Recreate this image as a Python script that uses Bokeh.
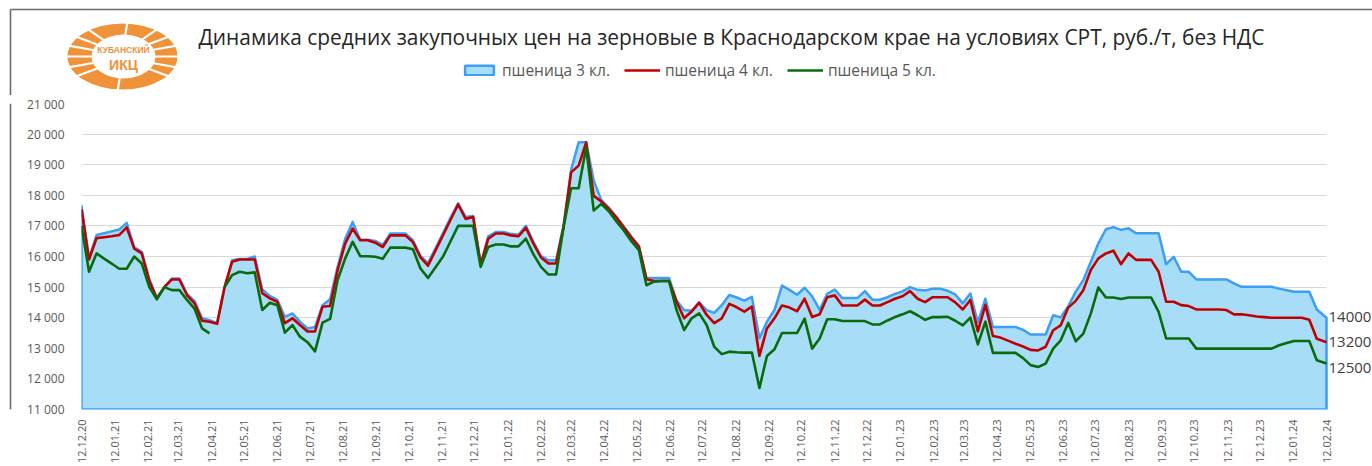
import numpy as np
import pandas as pd
from bokeh.plotting import figure
from bokeh.layouts import column, row
from bokeh.models import (Range1d, FixedTicker, DatetimeTickFormatter, CustomJSTickFormatter,
                          Legend, LegendItem, Label)
from bokeh.core.properties import value
from bokeh.embed import file_html
from bokeh.resources import INLINE

# ---------------- data ----------------
TITLE = "Динамика средних закупочных цен на зерновые в Краснодарском крае на условиях СРТ, руб./т, без НДС"
SERIES_NAMES = ["пшеница 3 кл.", "пшеница 4 кл.", "пшеница 5 кл."]
LOGO_TEXT = ["КУБАНСКИЙ", "ИКЦ"]
FIRST_DATE = "2020-12-12"   # weekly observations
LAST_DATE = "2024-02-12"
Y_TICKS = [11000, 12000, 13000, 14000, 15000, 16000, 17000, 18000, 19000, 20000, 21000]

WHEAT3 = [
    17650, 15950, 16700, 16760, 16820, 16880, 17100, 16300, 16150, 15270,
    14650, 15000, 15280, 15280, 14780, 14550, 13980, 13920, 13820, 15000,
    15880, 15920, 15920, 16000, 14920, 14710, 14580, 14030, 14140, 13870,
    13650, 13700, 14410, 14600, 15660, 16580, 17130, 16550, 16550, 16510,
    16370, 16750, 16750, 16750, 16530, 16020, 15780, 16270, 16770, 17270,
    17740, 17290, 17320, 15770, 16660, 16800, 16800, 16740, 16710, 17000,
    16470, 16010, 15880, 15880, 17020, 18830, 19730, 19730, 18480, 17850,
    17600, 17300, 16980, 16650, 16350, 15300, 15300, 15300, 15300, 14560,
    14250, 14230, 14490, 14250, 14160, 14410, 14740, 14660, 14560, 14680,
    13330, 13870, 14250, 15050, 14910, 14750, 14980, 14700, 14260, 14780,
    14920, 14640, 14640, 14640, 14870, 14590, 14590, 14670, 14780, 14860,
    15000, 14910, 14890, 14950, 14950, 14880, 14760, 14470, 14790, 13840,
    14620, 13700, 13700, 13700, 13700, 13600, 13450, 13450, 13450, 14080,
    14010, 14380, 14850, 15230, 15830, 16430, 16890, 16960, 16870, 16920,
    16760, 16760, 16760, 16760, 15750, 15990, 15500, 15500, 15250, 15250,
    15250, 15250, 15250, 15120, 15010, 15010, 15010, 15010, 15010, 14950,
    14900, 14850, 14850, 14850, 14270, 14000,
]
WHEAT4 = [
    17550, 15900, 16600, 16630, 16660, 16700, 16950, 16260, 16100, 15200,
    14620, 15000, 15250, 15250, 14740, 14470, 13900, 13870, 13800, 15000,
    15830, 15900, 15900, 15900, 14800, 14630, 14520, 13820, 13980, 13760,
    13550, 13550, 14360, 14380, 15550, 16420, 16910, 16530, 16530, 16450,
    16310, 16690, 16690, 16690, 16470, 15970, 15700, 16200, 16700, 17200,
    17700, 17230, 17290, 15720, 16580, 16750, 16750, 16690, 16660, 16940,
    16420, 15970, 15770, 15770, 16960, 18750, 18970, 19730, 17980, 17800,
    17560, 17280, 16950, 16620, 16320, 15260, 15200, 15200, 15200, 14520,
    13980, 14200, 14490, 14090, 13820, 13980, 14450, 14340, 14200, 14360,
    12750, 13650, 13980, 14400, 14330, 14210, 14620, 14020, 14110, 14670,
    14730, 14400, 14400, 14400, 14590, 14400, 14400, 14510, 14620, 14700,
    14870, 14620, 14510, 14670, 14670, 14670, 14500, 14270, 14580, 13550,
    14420, 13400, 13350, 13250, 13150, 13060, 12950, 12930, 13050, 13590,
    13750, 14330, 14550, 14900, 15560, 15940, 16100, 16190, 15750, 16100,
    15890, 15890, 15890, 15500, 14520, 14520, 14410, 14380, 14270, 14270,
    14270, 14270, 14250, 14110, 14110, 14080, 14040, 14020, 14000, 14000,
    14000, 14000, 14000, 13930, 13310, 13200,
]
WHEAT5 = [
    17000, 15500, 16100, 15930, 15770, 15600, 15600, 16000, 15770, 15000,
    14600, 15000, 14900, 14900, 14580, 14300, 13650, 13490, None, 15000,
    15390, 15500, 15450, 15480, 14250, 14490, 14410, 13510, 13760, 13380,
    13200, 12900, 13840, 13960, 15230, 15930, 16480, 16010, 16010, 15990,
    15930, 16290, 16290, 16290, 16240, 15610, 15300, 15650, 16000, 16500,
    17000, 17000, 17000, 15660, 16310, 16390, 16390, 16330, 16330, 16580,
    16070, 15660, 15410, 15410, 16960, 18230, 18230, 19570, 17500, 17720,
    17480, 17150, 16850, 16500, 16210, 15060, 15180, 15200, 15200, 14250,
    13600, 13980, 14140, 13760, 13050, 12810, 12890, 12870, 12860, 12860,
    11700, 12750, 12970, 13500, 13500, 13500, 13970, 12990, 13320, 13950,
    13950, 13890, 13890, 13890, 13890, 13780, 13780, 13910, 14020, 14110,
    14210, 14080, 13930, 14020, 14020, 14030, 13900, 13750, 14000, 13130,
    13870, 12850, 12850, 12850, 12850, 12680, 12450, 12390, 12500, 12990,
    13260, 13830, 13230, 13480, 14140, 14990, 14660, 14660, 14610, 14660,
    14660, 14660, 14660, 14190, 13320, 13320, 13320, 13320, 12990, 12990,
    12990, 12990, 12990, 12990, 12990, 12990, 12990, 12990, 12990, 13100,
    13170, 13240, 13240, 13240, 12610, 12500,
]

# ---------------- styles / layout ----------------
AREA_FILL = "#a8ddf8"
AREA_LINE = "#3d9ef3"
RED = "#c00000"
GREEN = "#0a6b0a"
ORANGE = "#f0923a"
BORDER = "#6b6b6b"
FONT = "Open Sans"
W, H = 1372, 466
HEADER_H = 95
STRIP_W = 12
PLOT_L, PLOT_R = 81, 1326        # pixel span of the dates (first..last)
MB_TOP, MB_BOTTOM = 8, 56

dates = pd.date_range(FIRST_DATE, periods=len(WHEAT3), freq="7D")
dates = dates[:-1].append(pd.DatetimeIndex([LAST_DATE]))
x_ms = (dates.asi8 // 10**6).astype(float)
w5 = np.array([np.nan if v is None else v for v in WHEAT5], dtype=float)
tick_dates = pd.date_range(FIRST_DATE, LAST_DATE, freq=pd.DateOffset(months=1))
tick_ms = [float(v) for v in (tick_dates.asi8 // 10**6)]

# ---------------- header (title, logo, legend) ----------------
hdr = figure(width=W, height=HEADER_H, output_backend="svg", toolbar_location=None,
             x_range=Range1d(0, W), y_range=Range1d(HEADER_H, 0),
             x_axis_location=None, y_axis_location=None,
             min_border_left=0, min_border_right=0, min_border_top=0, min_border_bottom=0)
hdr.outline_line_color = None
hdr.grid.visible = False
hdr.segment(x0=[10, 10], y0=[9, 9], x1=[W, 10], y1=[9, HEADER_H], line_color=BORDER, line_width=1.6)
hdr.text(x=[731], y=[36], text=[TITLE], text_align="center", text_baseline="middle",
         text_font=value(FONT), text_font_size="20.9px", text_color="#262626")

# logo
hdr.ellipse(x=[122], y=[56], width=[110], height=[66], fill_color=ORANGE, line_color=None)
hdr.ellipse(x=[123], y=[56], width=[64], height=[44], fill_color="white", line_color=None)
ang = np.deg2rad(np.array([145, 162, 180, 198, 215, 232, 35, 18, 0, -18, -35, -52, 95, 275]))
hdr.segment(x0=122 + 31 * np.cos(ang), y0=56 + 21 * np.sin(ang),
            x1=122 + 57 * np.cos(ang), y1=56 + 35 * np.sin(ang),
            line_color="white", line_width=2.2)
hdr.text(x=[123], y=[49], text=[LOGO_TEXT[0]], text_align="center", text_baseline="middle",
         text_font=value("Liberation Sans"), text_font_style="bold", text_font_size="8.5px",
         text_color=ORANGE)
hdr.text(x=[123], y=[64], text=[LOGO_TEXT[1]], text_align="center", text_baseline="middle",
         text_font=value("Liberation Sans"), text_font_style="bold", text_font_size="14px",
         text_color=ORANGE)

# legend swatches: renderers in this header plot, holding only an empty (NaN) point
d3 = hdr.patch(x=[np.nan], y=[np.nan], fill_color=AREA_FILL, line_color=AREA_LINE, line_width=2.5)
d4 = hdr.line(x=[np.nan], y=[np.nan], line_color=RED, line_width=2.6)
d5 = hdr.line(x=[np.nan], y=[np.nan], line_color=GREEN, line_width=2.6)
legend = Legend(items=[LegendItem(label=SERIES_NAMES[0], renderers=[d3]),
                       LegendItem(label=SERIES_NAMES[1], renderers=[d4]),
                       LegendItem(label=SERIES_NAMES[2], renderers=[d5])],
                location=(461, 14), orientation="horizontal",
                border_line_color=None, background_fill_alpha=0,
                label_text_font=FONT, label_text_font_size="15.5px", label_text_color="#595959",
                glyph_width=36, glyph_height=12, label_standoff=5, spacing=14,
                padding=0, margin=0)
hdr.add_layout(legend, "center")

# ---------------- left strip (chart border) ----------------
strip = figure(width=STRIP_W, height=H - HEADER_H, output_backend="svg", toolbar_location=None,
               x_range=Range1d(0, STRIP_W), y_range=Range1d(H, HEADER_H),
               x_axis_location=None, y_axis_location=None,
               min_border_left=0, min_border_right=0, min_border_top=0, min_border_bottom=0)
strip.outline_line_color = None
strip.grid.visible = False
strip.segment(x0=[10], y0=[HEADER_H], x1=[10], y1=[H], line_color=BORDER, line_width=1.6)

# ---------------- main chart ----------------
span = x_ms[-1] - x_ms[0]
x_end = x_ms[0] + span * (W - PLOT_L) / (PLOT_R - PLOT_L)
p = figure(width=W - STRIP_W, height=H - HEADER_H, output_backend="svg", toolbar_location=None,
           x_axis_type="datetime",
           x_range=Range1d(x_ms[0], x_end), y_range=Range1d(Y_TICKS[0], Y_TICKS[-1]),
           min_border_left=PLOT_L - STRIP_W, min_border_right=0,
           min_border_top=MB_TOP, min_border_bottom=MB_BOTTOM)
p.outline_line_color = None

xs_area = list(x_ms) + [x_ms[-1], x_ms[0]]
ys_area = list(WHEAT3) + [Y_TICKS[0], Y_TICKS[0]]
p.patch(xs_area, ys_area, fill_color=AREA_FILL, line_color=AREA_LINE, line_width=2.5,
        line_join="round")
p.line(x_ms, WHEAT4, line_color=RED, line_width=2.6, line_join="round")
p.line(x_ms, w5, line_color=GREEN, line_width=2.6, line_join="round")

p.yaxis.ticker = FixedTicker(ticks=Y_TICKS)
p.yaxis.formatter = CustomJSTickFormatter(
    code=r"return tick.toFixed(0).replace(/\B(?=(\d{3})+(?!\d))/g, ' ');")
p.xaxis.ticker = FixedTicker(ticks=tick_ms)
fmt = "%d.%m.%y"
p.xaxis.formatter = DatetimeTickFormatter(
    microseconds=fmt, milliseconds=fmt, seconds=fmt, minsec=fmt, minutes=fmt,
    hourmin=fmt, hours=fmt, days=fmt, months=fmt, years=fmt)
p.xaxis.major_label_orientation = np.pi / 2
for ax in (p.xaxis, p.yaxis):
    ax.axis_line_color = None
    ax.major_tick_line_color = None
    ax.minor_tick_line_color = None
    ax.major_label_text_color = "#595959"
    ax.major_label_text_font = FONT
p.yaxis.major_label_text_font_size = "12px"
p.yaxis.major_label_standoff = 11
p.xaxis.major_label_text_font_size = "11px"
p.xaxis.major_label_standoff = 4
p.ygrid.grid_line_color = "#d9d9d9"
p.ygrid.grid_line_width = 1.2
p.ygrid.cross_bounds = (x_ms[0], x_ms[-1])
p.xgrid.grid_line_color = None

for val, dy in zip([WHEAT3[-1], WHEAT4[-1], WHEAT5[-1]], [1, 0, -4]):
    p.add_layout(Label(x=x_ms[-1], y=val, text=str(int(val)), x_offset=2, y_offset=dy,
                       text_baseline="middle", text_align="left", text_font=FONT,
                       text_font_size="15px", text_color="#404040"))

layout = column(hdr, row(strip, p))
open("out.html", "w").write(file_html(layout, INLINE))
